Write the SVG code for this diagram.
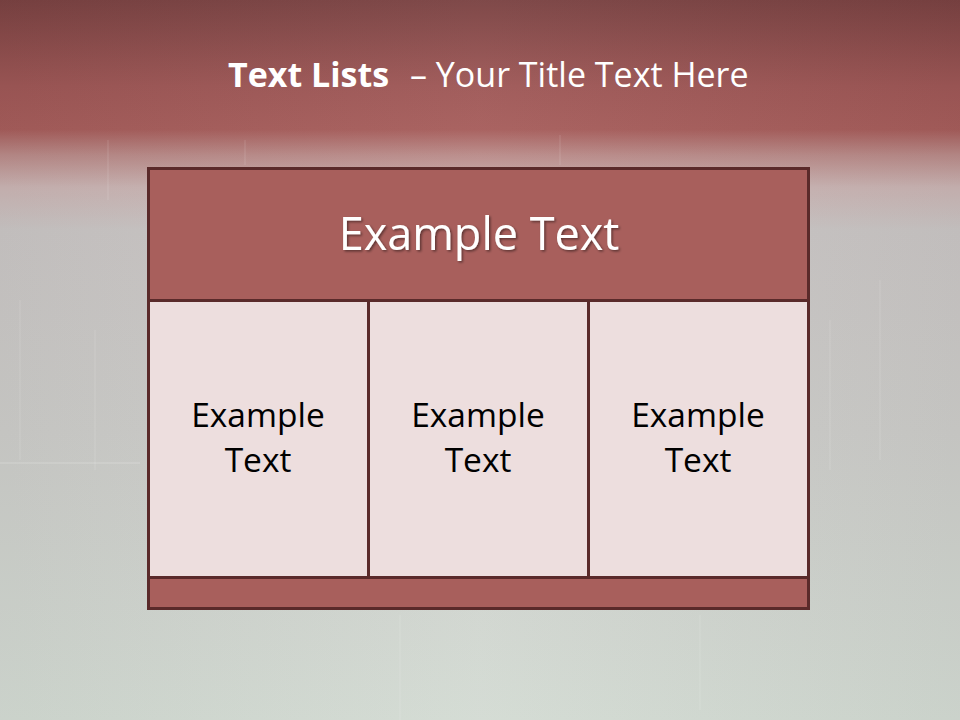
<svg xmlns="http://www.w3.org/2000/svg" width="960" height="720" viewBox="0 0 960 720">
<defs>
<linearGradient id="bg" x1="0" y1="0" x2="0" y2="1">
<stop offset="0" stop-color="#7a4242"/>
<stop offset="0.12" stop-color="#9e5756"/>
<stop offset="0.18" stop-color="#a65d5b"/>
<stop offset="0.215" stop-color="#b98a88"/>
<stop offset="0.26" stop-color="#cab4b3"/>
<stop offset="0.32" stop-color="#c9c5c4"/>
<stop offset="0.6" stop-color="#ccccc9"/>
<stop offset="1" stop-color="#d3dbd3"/>
</linearGradient>
<linearGradient id="side" x1="0" y1="0" x2="1" y2="0">
<stop offset="0" stop-color="#000" stop-opacity="0.04"/>
<stop offset="0.5" stop-color="#fff" stop-opacity="0.04"/>
<stop offset="1" stop-color="#000" stop-opacity="0.04"/>
</linearGradient>
<filter id="sh" x="-10%" y="-10%" width="120%" height="130%">
<feDropShadow dx="1.5" dy="1.5" stdDeviation="1" flood-color="#000" flood-opacity="0.45"/>
</filter>
</defs>
<style>
.title{font-family:"Open Sans","Liberation Sans",sans-serif;fill:#ffffff;font-size:34px}
.box{stroke:#5a2a2a;stroke-width:3}
.dark{fill:#a85f5c}
.light{fill:#eddede}
.head{font-family:"Open Sans","Liberation Sans",sans-serif;font-size:45px;fill:#ffffff;text-anchor:middle}
.cell{font-family:"Open Sans","Liberation Sans",sans-serif;font-size:33.5px;fill:#000000;text-anchor:middle}
.streak{stroke:#ffffff;stroke-opacity:0.15;stroke-width:1}
</style>
<rect width="960" height="720" fill="url(#bg)"/>
<rect width="960" height="720" fill="url(#side)"/>
<g class="streak">
<line x1="108" y1="140" x2="108" y2="200"/>
<line x1="245" y1="140" x2="245" y2="165"/>
<line x1="560" y1="135" x2="560" y2="165"/>
<line x1="20" y1="300" x2="20" y2="460"/>
<line x1="95" y1="330" x2="95" y2="470"/>
<line x1="830" y1="320" x2="830" y2="470"/>
<line x1="880" y1="280" x2="880" y2="460"/>
<line x1="0" y1="463" x2="140" y2="463" stroke-opacity="0.25"/>
<line x1="400" y1="615" x2="400" y2="720"/>
<line x1="700" y1="615" x2="700" y2="710"/>
</g>
<g id="title">
<text class="title" x="228" y="87" font-weight="bold">Text Lists</text>
<text class="title" x="410" y="87">– Your Title Text Here</text>
</g>
<g id="header">
<rect class="box dark" x="148.5" y="168.5" width="660" height="132"/>
<text class="head" x="479" y="250" filter="url(#sh)">Example Text</text>
</g>
<g id="cell1">
<rect class="box light" x="148.5" y="300.5" width="220" height="277"/>
<text class="cell" x="258" y="427">Example</text>
<text class="cell" x="258" y="472">Text</text>
</g>
<g id="cell2">
<rect class="box light" x="368.5" y="300.5" width="220" height="277"/>
<text class="cell" x="478" y="427">Example</text>
<text class="cell" x="478" y="472">Text</text>
</g>
<g id="cell3">
<rect class="box light" x="588.5" y="300.5" width="220" height="277"/>
<text class="cell" x="698" y="427">Example</text>
<text class="cell" x="698" y="472">Text</text>
</g>
<g id="footer">
<rect class="box dark" x="148.5" y="577.5" width="660" height="31"/>
</g>
<g id="connectors"/>
</svg>
